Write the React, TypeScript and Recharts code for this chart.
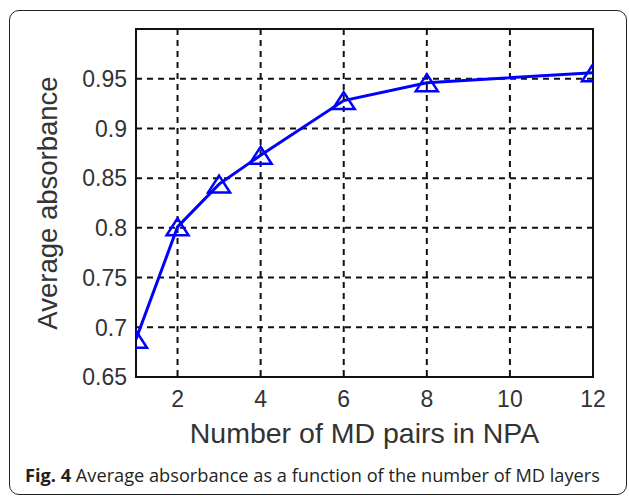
import React from 'react';
import { LineChart, Line, XAxis, YAxis, CartesianGrid, ReferenceArea } from 'recharts';

// number of MD pairs vs. average absorbance
const mdPairs = [1, 2, 3, 4, 6, 8, 12];
const absorbance = [0.688, 0.801, 0.844, 0.873, 0.928, 0.946, 0.956];

const xTicks = [2, 4, 6, 8, 10, 12];
const yTicks = [0.65, 0.7, 0.75, 0.8, 0.85, 0.9, 0.95];

const data = mdPairs.map((n, i) => ({ n, value: absorbance[i] }));

const BLUE = '#0000ff';
const AXIS_FONT = 'Arial, "Liberation Sans", sans-serif';

// open triangle marker, like matlab's '^'
const TriangleDot = (props: any) => {
  const { cx, cy, index } = props;
  if (cx == null || cy == null) return null;
  const hw = 11;
  const hh = 8.5;
  return (
    <path
      key={`tri-${index}`}
      d={`M${cx},${cy - hh} L${cx + hw},${cy + hh} L${cx - hw},${cy + hh} Z`}
      fill="none"
      stroke={BLUE}
      strokeWidth={2.5}
      strokeLinejoin="miter"
    />
  );
};

// tick text drawn by hand so the size sticks
const YTick = (props: any) => {
  const { x, y, payload } = props;
  return (
    <text x={x} y={y} dy="0.36em" textAnchor="end" fill="#333" fontSize={23} fontFamily={AXIS_FONT}>
      {payload.value}
    </text>
  );
};

const XTick = (props: any) => {
  const { x, y, payload } = props;
  return (
    <text x={x} y={y} dy="0.71em" textAnchor="middle" fill="#333" fontSize={23} fontFamily={AXIS_FONT}>
      {payload.value}
    </text>
  );
};

const App: React.FC = () => {
  return (
    <div style={{ position: 'absolute', left: 0, top: 0, width: 629, height: 498, background: '#fff' }}>
      <div
        style={{
          position: 'absolute',
          left: 9,
          top: 10,
          width: 618,
          height: 485,
          border: '1.5px solid #222',
          borderRadius: 10,
          boxSizing: 'border-box',
        }}
      />
      <div style={{ position: 'absolute', left: 0, top: 0 }}>
        <LineChart width={629} height={498} data={data} margin={{ top: 29, right: 36, left: 36, bottom: 51 }}>
          <CartesianGrid stroke="#111" strokeWidth={2} strokeDasharray="6 5" />
          <XAxis
            dataKey="n"
            type="number"
            domain={[1, 12]}
            ticks={xTicks}
            allowDataOverflow
            tickLine={false}
            axisLine={false}
            height={70}
            tickMargin={8}
            tick={<XTick />}
            label={{
              value: 'Number of MD pairs in NPA',
              position: 'insideBottom',
              offset: 4,
              style: { fill: '#333', fontSize: 28.5, fontFamily: AXIS_FONT },
            }}
          />
          <YAxis
            type="number"
            domain={[0.65, 1.0]}
            ticks={yTicks}
            allowDataOverflow
            tickLine={false}
            axisLine={false}
            width={100}
            tickMargin={3}
            tick={<YTick />}
            label={{
              value: 'Average absorbance',
              angle: -90,
              position: 'insideLeft',
              offset: 11,
              style: { fill: '#333', fontSize: 27.5, fontFamily: AXIS_FONT, textAnchor: 'middle' },
            }}
          />
          <ReferenceArea x1={1} x2={12} y1={0.65} y2={1.0} fill="none" stroke="#111" strokeWidth={2} />
          <Line
            type="linear"
            dataKey="value"
            stroke={BLUE}
            strokeWidth={3}
            dot={TriangleDot}
            activeDot={false}
            isAnimationActive={false}
          />
        </LineChart>
      </div>
      <div
        style={{
          position: 'absolute',
          left: 25,
          top: 463,
          fontFamily: '"Open Sans", sans-serif',
          fontSize: 18.2,
          color: '#231f20',
          whiteSpace: 'nowrap',
        }}
      >
        <b>Fig. 4</b> Average absorbance as a function of the number of MD layers
      </div>
    </div>
  );
};

export default App;
